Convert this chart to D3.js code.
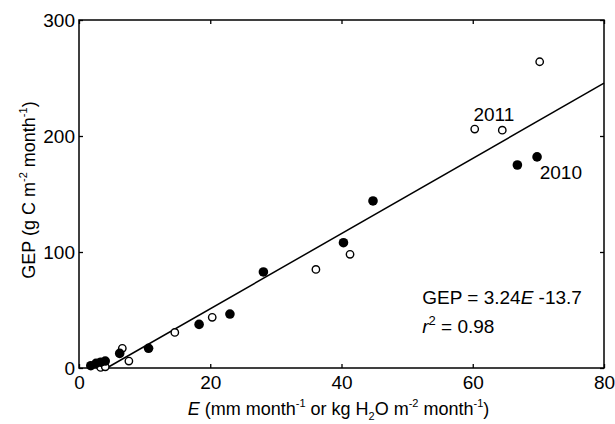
<!DOCTYPE html>
<html>
<head>
<meta charset="utf-8">
<script src="https://cdn.jsdelivr.net/npm/d3@7"></script>
<style>
  body { margin: 0; background: #fff; }
  svg text { font-family: "Liberation Sans", Arial, sans-serif; fill: #000; }
</style>
</head>
<body>
<svg id="chart"></svg>
<script>
// 2010 (filled) and 2011 (open) monthly values
const e2010 = [1.8, 2.6, 3.3, 4.0, 6.2, 10.6, 18.3, 23.0, 28.1, 40.3, 44.8, 66.8, 69.8];
const gep2010 = [2, 4, 5, 6, 12.6, 17, 37.6, 46.5, 82.8, 108, 144, 175, 182];
const e2011 = [3.3, 4.0, 6.6, 7.6, 14.6, 20.3, 36.1, 41.3, 60.3, 64.5, 70.2];
const gep2011 = [0.5, 1, 17, 6, 30.7, 43.7, 85, 98, 206, 205, 264];
const xTicks = [0, 20, 40, 60, 80];
const yTicks = [0, 100, 200, 300];
const slope = 3.24, intercept = -13.7;

const width = 615, height = 424;
const margin = {top: 20, right: 11, bottom: 56, left: 79};
const w = width - margin.left - margin.right;
const h = height - margin.top - margin.bottom;
const fs = 19, lab = 18, sup = 11;

const svg = d3.select('#chart')
  .attr('width', width)
  .attr('height', height);

const g = svg.append('g')
  .attr('transform', `translate(${margin.left},${margin.top})`);

const x = d3.scaleLinear().domain([0, 80]).range([0, w]);
const y = d3.scaleLinear().domain([0, 300]).range([h, 0]);

// inward ticks on all four sides
const tick = 4;
g.append('g').attr('transform', `translate(0,${h})`)
  .call(d3.axisBottom(x).tickValues(xTicks).tickSize(-tick).tickPadding(8).tickFormat(d3.format('d')));
g.append('g')
  .call(d3.axisTop(x).tickValues(xTicks).tickSize(-tick).tickFormat(''));
g.append('g')
  .call(d3.axisLeft(y).tickValues(yTicks).tickSize(-tick).tickPadding(4).tickFormat(d3.format('d')));
g.append('g').attr('transform', `translate(${w},0)`)
  .call(d3.axisRight(y).tickValues(yTicks).tickSize(-tick).tickFormat(''));

g.selectAll('.domain').remove();
g.selectAll('.tick line').attr('stroke', '#000').attr('stroke-width', 1.3);
g.selectAll('.tick text').attr('font-size', fs).attr('font-family', '"Liberation Sans", Arial, sans-serif');

g.append('rect')
  .attr('width', w).attr('height', h)
  .attr('fill', 'none').attr('stroke', '#000').attr('stroke-width', 1.5);

// regression line, starting where GEP = 0
const x0 = -intercept / slope;
g.append('line')
  .attr('x1', x(x0)).attr('y1', y(0))
  .attr('x2', x(80)).attr('y2', y(slope * 80 + intercept))
  .attr('stroke', '#000').attr('stroke-width', 1.5);

g.selectAll('.p2011')
  .data(d3.zip(e2011, gep2011))
  .enter().append('circle')
  .attr('cx', d => x(d[0])).attr('cy', d => y(d[1]))
  .attr('r', 3.7)
  .attr('fill', '#fff').attr('stroke', '#000').attr('stroke-width', 1.4);

g.selectAll('.p2010')
  .data(d3.zip(e2010, gep2010))
  .enter().append('circle')
  .attr('cx', d => x(d[0])).attr('cy', d => y(d[1]))
  .attr('r', 4.8)
  .attr('fill', '#000');

// year labels
g.append('text').attr('x', x(60.1)).attr('y', y(213)).attr('font-size', fs).text('2011');
g.append('text').attr('x', x(70.2)).attr('y', y(163)).attr('font-size', fs).text('2010');

// equation
const eq = g.append('text').attr('x', x(52.3)).attr('y', y(55)).attr('font-size', fs);
eq.append('tspan').text('GEP = 3.24');
eq.append('tspan').attr('font-style', 'italic').text('E');
eq.append('tspan').text(' -13.7');

const r2 = g.append('text').attr('x', x(52.3)).attr('y', y(30)).attr('font-size', fs);
r2.append('tspan').attr('font-style', 'italic').text('r');
r2.append('tspan').attr('font-size', 13).attr('dy', -8).text('2');
r2.append('tspan').attr('dy', 8).text(' = 0.98');

// x axis label
const xl = svg.append('text')
  .attr('x', margin.left + w / 2 - 3).attr('y', 415)
  .attr('text-anchor', 'middle').attr('font-size', lab);
xl.append('tspan').attr('font-style', 'italic').text('E');
xl.append('tspan').text(' (mm month');
xl.append('tspan').attr('font-size', sup).attr('dy', -8).text('-1');
xl.append('tspan').attr('dy', 8).text(' or kg H');
xl.append('tspan').attr('font-size', sup).attr('dy', 5).text('2');
xl.append('tspan').attr('dy', -5).text('O m');
xl.append('tspan').attr('font-size', sup).attr('dy', -8).text('-2');
xl.append('tspan').attr('dy', 8).text(' month');
xl.append('tspan').attr('font-size', sup).attr('dy', -8).text('-1');
xl.append('tspan').attr('dy', 8).text(')');

// y axis label
const yl = svg.append('text')
  .attr('transform', `translate(35,${margin.top + h / 2 - 4}) rotate(-90)`)
  .attr('text-anchor', 'middle').attr('font-size', lab);
yl.append('tspan').text('GEP (g C m');
yl.append('tspan').attr('font-size', sup).attr('dy', -8).text('-2');
yl.append('tspan').attr('dy', 8).text(' month');
yl.append('tspan').attr('font-size', sup).attr('dy', -8).text('-1');
yl.append('tspan').attr('dy', 8).text(')');
</script>
</body>
</html>
